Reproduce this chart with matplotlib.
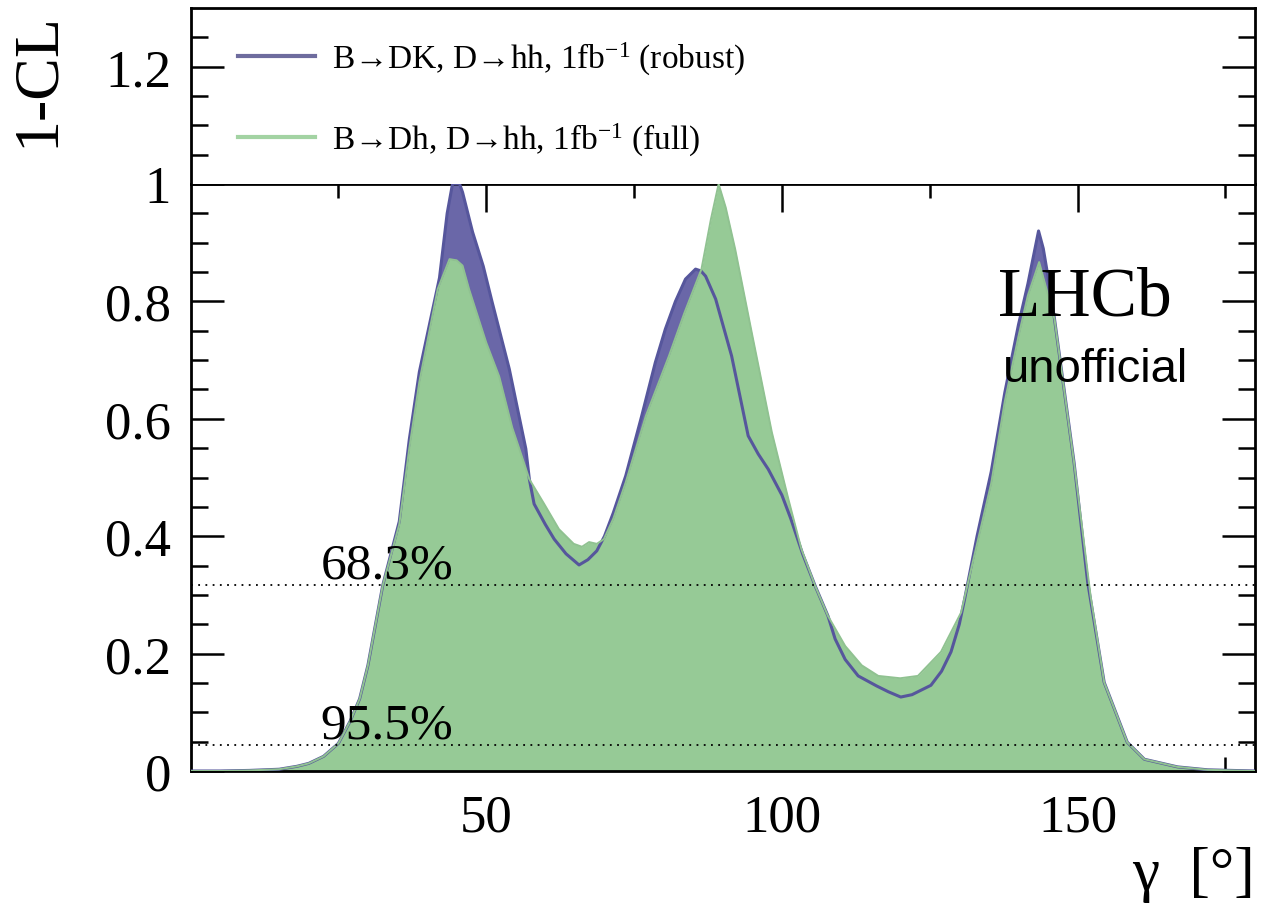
import matplotlib
matplotlib.use("Agg")
import matplotlib.pyplot as plt
from matplotlib.ticker import MultipleLocator, FixedLocator, FuncFormatter
from matplotlib.lines import Line2D

plt.rcParams['font.family'] = ['Liberation Serif', 'DejaVu Serif']
plt.rcParams['mathtext.fontset'] = 'custom'
plt.rcParams['mathtext.rm'] = 'Liberation Serif'
plt.rcParams['mathtext.it'] = 'Liberation Serif:italic'

# 1-CL scan of gamma, robust B->DK combination
gamma_robust = [0, 5, 10, 15, 18, 20, 22.5, 25, 27, 28.6, 30, 32.5, 35.3, 37, 38.7,
                40.5, 42.1, 43.4, 44.3, 45.5, 46.0, 47.7, 49.5, 51.0, 53.9,
                56.7, 57.3, 58.1, 60, 61.5, 63.5, 65.7, 67.2, 68.7, 70,
                71.5, 73.6, 76.3, 78.6, 80.3, 82, 83.7, 85.4, 86.3, 87.1,
                88.8, 91.5, 94.3, 96, 97.7, 100, 101.5, 103.5, 105.6, 107.8,
                109, 110.7, 112.9, 116, 118, 120.1, 122, 125.2, 127, 128.6,
                130, 130.9, 133, 135.4, 137.7, 140, 141.6, 143.4, 144.2, 145.2,
                146.1, 149.4, 151.7, 154.5, 158.4, 161.3, 166.9, 172, 180]
cl_robust = [0, 0, 0.001, 0.003, 0.008, 0.013, 0.025, 0.047, 0.085, 0.123, 0.18, 0.316, 0.425, 0.565, 0.68,
             0.765, 0.84, 0.95, 1.0, 1.0, 0.986, 0.918, 0.86, 0.799, 0.685,
             0.549, 0.497, 0.455, 0.42, 0.395, 0.37, 0.351, 0.36, 0.375, 0.40,
             0.44, 0.503, 0.605, 0.696, 0.753, 0.80, 0.838, 0.855, 0.852, 0.843,
             0.804, 0.707, 0.571, 0.54, 0.514, 0.47, 0.43, 0.37, 0.316, 0.264,
             0.225, 0.19, 0.162, 0.145, 0.135, 0.126, 0.13, 0.146, 0.17, 0.203,
             0.25, 0.293, 0.40, 0.51, 0.645, 0.76, 0.83, 0.92, 0.89, 0.83,
             0.77, 0.526, 0.322, 0.151, 0.049, 0.02, 0.007, 0.002, 0]

# 1-CL scan of gamma, full B->Dh combination
gamma_full = [0, 5, 10, 15, 18, 20, 22.5, 25, 27, 28.6, 30, 32.5, 35.3, 37, 38.7,
              41.8, 43.8, 45, 46.0, 47.1, 50, 52.2, 54.4, 55.6, 57.3,
              59.8, 62.3, 64.8, 66.2, 67.4, 68.7, 69.9, 71.5, 73.6, 77,
              80.9, 83.5, 86.4, 88, 89.3, 90.5, 92.1, 94.9, 98.3, 101.1,
              103.3, 105.6, 107.8, 110.7, 113.5, 116.3, 120, 123, 126.9, 130.3,
              131.4, 135.4, 137.7, 140, 141.6, 143.5, 146.1, 149.4, 152.2, 154.5,
              158.4, 161.3, 166.9, 172, 180]
cl_full = [0, 0, 0.001, 0.003, 0.008, 0.013, 0.025, 0.047, 0.085, 0.123, 0.18, 0.316, 0.42, 0.55, 0.663,
           0.821, 0.872, 0.87, 0.861, 0.821, 0.73, 0.672, 0.585, 0.549, 0.497,
           0.455, 0.412, 0.387, 0.382, 0.39, 0.387, 0.395, 0.43, 0.492, 0.605,
           0.707, 0.78, 0.855, 0.94, 1.0, 0.96, 0.889, 0.747, 0.577, 0.463,
           0.378, 0.316, 0.264, 0.213, 0.18, 0.162, 0.158, 0.162, 0.203, 0.27,
           0.318, 0.49, 0.63, 0.74, 0.81, 0.867, 0.77, 0.526, 0.298, 0.151,
           0.049, 0.02, 0.007, 0.002, 0]

series_labels = [r"B→DK, D→hh, 1fb$^{\mathregular{-1}}$ (robust)",
                 r"B→Dh, D→hh, 1fb$^{\mathregular{-1}}$ (full)"]
cl_levels = [0.317, 0.045]
cl_level_labels = ["68.3%", "95.5%"]

purple_fill = "#6A67A8"
purple_line = "#56569C"
legend_purple = "#6E6C9E"
green_fill = "#96CA96"
green_edge = "#90C291"
green_line = "#A3D3A3"

fig = plt.figure(figsize=(12.72, 9.12), dpi=100)
W, H = 1272, 912
left, right = 190.5, 1255
y0, y1, ytop = 772, 185, 9
ax = fig.add_axes([left / W, 1 - y0 / H, (right - left) / W, (y0 - y1) / H])
axt = fig.add_axes([left / W, 1 - y1 / H, (right - left) / W, (y1 - ytop) / H])

# curves: robust fill, full fill, robust outline, full outline on top
ax.fill_between(gamma_robust, cl_robust, 0, color=purple_fill, lw=0, zorder=1)
ax.fill_between(gamma_full, cl_full, 0, color=green_fill, lw=0, zorder=2)
ax.plot(gamma_robust, cl_robust, color=purple_line, lw=2.2, zorder=3)
ax.plot(gamma_full, cl_full, color=green_edge, lw=1.4, zorder=4)

# confidence level lines
for lvl, txt in zip(cl_levels, cl_level_labels):
    ax.axhline(lvl, color="black", lw=1.3, ls=(0, (1, 3)), zorder=5)
    ax.text(22, lvl + 0.012, txt, fontsize=37, ha="left", va="baseline", zorder=6)

ax.set_xlim(0, 180)
ax.set_ylim(0, 1)
ax.xaxis.set_major_locator(FixedLocator([50, 100, 150]))
ax.xaxis.set_minor_locator(FixedLocator([25, 75, 125, 175]))
ax.yaxis.set_major_locator(MultipleLocator(0.2))
ax.yaxis.set_minor_locator(MultipleLocator(0.05))
ax.yaxis.set_major_formatter(FuncFormatter(lambda v, _: f"{v:g}"))
ax.tick_params(which="both", direction="in", top=True, right=True, width=1.8,
               labelsize=38)
ax.tick_params(which="major", axis="y", length=24, pad=14)
ax.tick_params(which="minor", axis="y", length=12)
ax.tick_params(which="major", axis="x", length=20, pad=16)
ax.tick_params(which="minor", axis="x", length=10)
for s in ax.spines.values():
    s.set_linewidth(2)

# upper panel holding the legend
axt.set_xlim(0, 180)
axt.set_ylim(1, 1.3)
axt.set_xticks([])
axt.yaxis.set_major_locator(FixedLocator([1.2]))
axt.yaxis.set_minor_locator(FixedLocator([1.05, 1.1, 1.15, 1.25]))
axt.yaxis.set_major_formatter(FuncFormatter(lambda v, _: f"{v:g}"))
axt.tick_params(which="both", direction="in", right=True, width=1.8, labelsize=38)
axt.tick_params(which="major", length=24, pad=14)
axt.tick_params(which="minor", length=12)
for s in axt.spines.values():
    s.set_linewidth(2)
axt.spines["bottom"].set_visible(False)

handles = [Line2D([], [], color=legend_purple, lw=3),
           Line2D([], [], color=green_line, lw=3)]
axt.legend(handles, series_labels, loc="upper left", bbox_to_anchor=(0.045, 0.82),
           frameon=False, fontsize=24, handlelength=2.3, handletextpad=0.5,
           labelspacing=1.32, borderaxespad=0, borderpad=0)

# labels
fig.text(38 / W, 1 - 12 / H, "1-CL", rotation=90, fontsize=46, ha="center", va="top")
fig.text(right / W, 1 - 890 / H, "γ  [°]", fontsize=44, ha="right", va="baseline")
ax.text(151.2, 0.778, "LHCb", fontsize=50, ha="center", va="baseline", zorder=7)
ax.text(153.0, 0.664, "unofficial", fontsize=34, ha="center", va="baseline",
        family=["Liberation Sans", "DejaVu Sans"], zorder=7)

fig.savefig("out.png", dpi=100)
